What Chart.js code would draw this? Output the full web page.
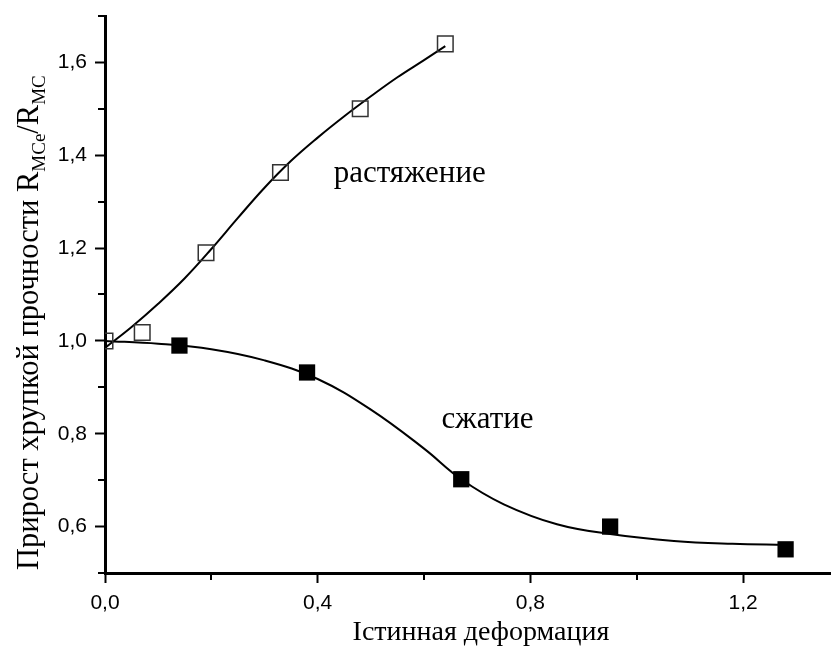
<!DOCTYPE html>
<html>
<head>
<meta charset="utf-8">
<script src="https://cdn.jsdelivr.net/npm/chart.js@4/dist/chart.umd.min.js"></script>
<style>
  html, body { margin: 0; padding: 0; background: #fff; }
  #wrap { width: 831px; height: 657px; }
</style>
</head>
<body>
<div id="wrap"><canvas id="c" width="831" height="657"></canvas></div>
<script>
// ---- measured points (true strain, strength ratio) ----
const tensionX = [0.0, 0.07, 0.19, 0.33, 0.48, 0.64];
const tensionY = [1.0, 1.018, 1.19, 1.363, 1.50, 1.64];
const compressX = [0.14, 0.38, 0.67, 0.95, 1.28];
const compressY = [0.99, 0.932, 0.702, 0.60, 0.551];

// ---- fitted curves ----
const tensionFitX = [0.0, 0.05, 0.10, 0.15, 0.20, 0.25, 0.30, 0.35, 0.40, 0.45, 0.50, 0.55, 0.60, 0.64];
const tensionFitY = [0.985, 1.03, 1.08, 1.135, 1.198, 1.265, 1.33, 1.388, 1.438, 1.484, 1.527, 1.568, 1.605, 1.635];
const compressFitX = [0.0, 0.10, 0.20, 0.30, 0.40, 0.50, 0.60, 0.67, 0.75, 0.85, 0.95, 1.07, 1.18, 1.28];
const compressFitY = [1.0, 0.994, 0.982, 0.958, 0.918, 0.852, 0.768, 0.702, 0.648, 0.605, 0.584, 0.569, 0.563, 0.561];

// ---- axes ----
const xMajorTicks = [0.0, 0.4, 0.8, 1.2];
const xMinorTicks = [0.2, 0.6, 1.0];
const yMajorTicks = [0.6, 0.8, 1.0, 1.2, 1.4, 1.6];
const yMinorTicks = [0.5, 0.7, 0.9, 1.1, 1.3, 1.5, 1.7];

// ---- text ----
const xTitle = 'Істинная деформация';
const yTitleMain = 'Прирост хрупкой прочности R';
const yTitleSub1 = 'MCe';
const yTitleMid = '/R';
const yTitleSub2 = 'MC';
const labelTension = 'растяжение';
const labelCompress = 'сжатие';

const pts = (xs, ys) => xs.map((x, i) => ({ x: x, y: ys[i] }));
const fmt = v => v.toFixed(1).replace('.', ',');
const near = (v, arr) => arr.some(a => Math.abs(a - v) < 1e-6);

const SERIF = '"Liberation Serif", "Times New Roman", serif';
const SANS = '"Liberation Sans", Arial, sans-serif';

const decor = {
  id: 'decor',
  afterDraw(chart) {
    const ctx = chart.ctx;
    const xs = chart.scales.x, ys = chart.scales.y;
    const area = chart.chartArea;
    ctx.save();
    // minor ticks
    ctx.strokeStyle = '#000';
    ctx.lineWidth = 2;
    ctx.beginPath();
    xMinorTicks.forEach(v => {
      const px = Math.round(xs.getPixelForValue(v));
      ctx.moveTo(px, area.bottom);
      ctx.lineTo(px, area.bottom + 7);
    });
    yMinorTicks.forEach(v => {
      const py = Math.round(ys.getPixelForValue(v));
      ctx.moveTo(area.left, py);
      ctx.lineTo(area.left - 7, py);
    });
    ctx.stroke();

    // curve labels
    ctx.fillStyle = '#000';
    ctx.font = '31px ' + SERIF;
    ctx.textAlign = 'left';
    ctx.textBaseline = 'alphabetic';
    ctx.fillText(labelTension, xs.getPixelForValue(0.430), ys.getPixelForValue(1.342));
    ctx.fillText(labelCompress, xs.getPixelForValue(0.633), ys.getPixelForValue(0.812));

    // x title
    ctx.font = '28px ' + SERIF;
    ctx.textAlign = 'center';
    ctx.fillText(xTitle, 481, 640);

    // y title (rotated, with subscripts)
    ctx.translate(38, 570);
    ctx.rotate(-Math.PI / 2);
    ctx.textAlign = 'left';
    let pos = 0;
    ctx.font = '30.5px ' + SERIF;
    ctx.fillText(yTitleMain, pos, 0);
    pos += ctx.measureText(yTitleMain).width;
    ctx.font = '19px ' + SERIF;
    ctx.fillText(yTitleSub1, pos, 7);
    pos += ctx.measureText(yTitleSub1).width;
    ctx.font = '30.5px ' + SERIF;
    ctx.fillText(yTitleMid, pos, 0);
    pos += ctx.measureText(yTitleMid).width;
    ctx.font = '19px ' + SERIF;
    ctx.fillText(yTitleSub2, pos, 7);
    ctx.restore();
  }
};

new Chart(document.getElementById('c'), {
  type: 'scatter',
  data: {
    datasets: [
      {
        label: 'растяжение (аппроксимация)',
        data: pts(tensionFitX, tensionFitY),
        showLine: true,
        borderColor: '#000',
        borderWidth: 2,
        pointRadius: 0,
        tension: 0.4,
        order: 2
      },
      {
        label: 'сжатие (аппроксимация)',
        data: pts(compressFitX, compressFitY),
        showLine: true,
        borderColor: '#000',
        borderWidth: 2,
        pointRadius: 0,
        tension: 0.4,
        order: 2
      },
      {
        label: 'растяжение',
        data: pts(tensionX, tensionY),
        showLine: false,
        pointStyle: 'rect',
        pointRadius: 11,
        pointBackgroundColor: 'rgba(0,0,0,0)',
        pointBorderColor: '#333',
        pointBorderWidth: 1.5,
        clip: 0,
        order: 1
      },
      {
        label: 'сжатие',
        data: pts(compressX, compressY),
        showLine: false,
        pointStyle: 'rect',
        pointRadius: 11.5,
        pointBackgroundColor: '#000',
        pointBorderColor: '#000',
        pointBorderWidth: 0,
        order: 1
      }
    ]
  },
  options: {
    responsive: false,
    animation: false,
    events: [],
    layout: { autoPadding: false, padding: { top: 16, right: 1, left: 0, bottom: 0 } },
    plugins: { legend: { display: false }, tooltip: { enabled: false } },
    scales: {
      x: {
        type: 'linear',
        min: 0,
        max: 1.3635,
        afterFit: s => { s.height = 84; s.paddingLeft = 0; s.paddingRight = 0; },
        ticks: {
          stepSize: 0.4,
          includeBounds: false,
          autoSkip: false,
          maxRotation: 0,
          color: '#000',
          padding: 8,
          font: { family: SANS, size: 21 },
          callback: v => near(v, xMajorTicks) ? fmt(v) : null
        },
        grid: { display: true, drawOnChartArea: false, drawTicks: true, tickLength: 10, tickWidth: 2, tickColor: '#000' },
        border: { display: true, color: '#000', width: 3 }
      },
      y: {
        type: 'linear',
        min: 0.5,
        max: 1.7,
        afterFit: s => { s.width = 105; s.paddingTop = 0; s.paddingBottom = 0; },
        ticks: {
          stepSize: 0.1,
          includeBounds: false,
          autoSkip: false,
          color: '#000',
          padding: 8,
          font: { family: SANS, size: 21 },
          callback: v => near(v, yMajorTicks) ? fmt(v) : null
        },
        grid: { display: true, drawOnChartArea: false, drawTicks: true, tickLength: 10, tickWidth: 2, tickColor: '#000' },
        border: { display: true, color: '#000', width: 3 }
      }
    }
  },
  plugins: [decor]
});
</script>
</body>
</html>
